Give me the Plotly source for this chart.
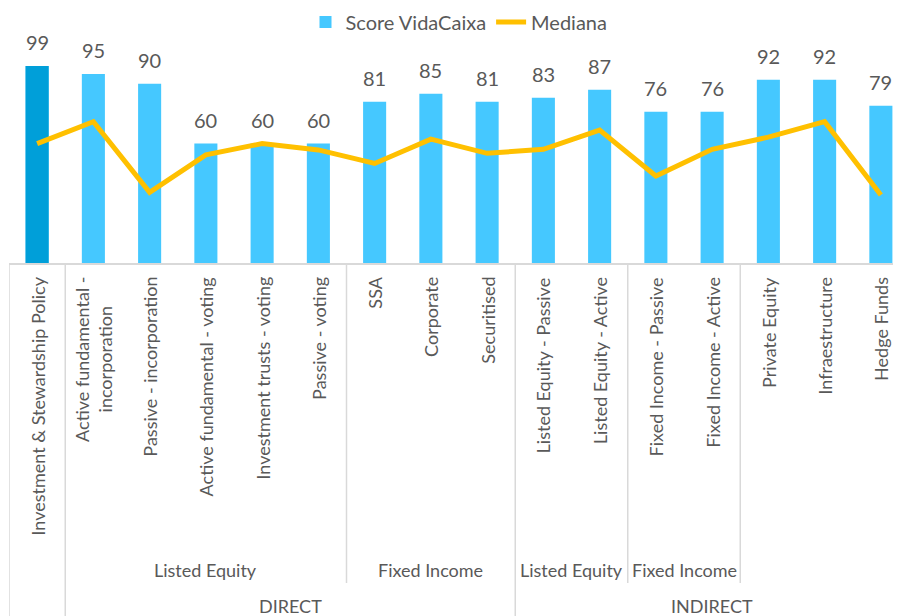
import plotly.graph_objects as go

categories = [
    "Investment & Stewardship Policy",
    "Active fundamental -<br>incorporation",
    "Passive - incorporation",
    "Active fundamental - voting",
    "Investment trusts - voting",
    "Passive - voting",
    "SSA",
    "Corporate",
    "Securitised",
    "Listed Equity - Passive",
    "Listed Equity - Active",
    "Fixed Income - Passive",
    "Fixed Income - Active",
    "Private Equity",
    "Infraestructure",
    "Hedge Funds",
]
score = [99, 95, 90, 60, 60, 60, 81, 85, 81, 83, 87, 76, 76, 92, 92, 79]
mediana = [60, 71, 35.5, 54.3, 60, 56.8, 50, 62.2, 55.1, 57.1, 66.8, 43.7, 57.1, 63.2, 71, 34.2]
group2 = ["", "Listed Equity", "Listed Equity", "Listed Equity", "Listed Equity", "Listed Equity",
          "Fixed Income", "Fixed Income", "Fixed Income",
          "Listed Equity", "Listed Equity", "Fixed Income", "Fixed Income", "", "", ""]
group1 = ["", "DIRECT", "DIRECT", "DIRECT", "DIRECT", "DIRECT", "DIRECT", "DIRECT", "DIRECT",
          "INDIRECT", "INDIRECT", "INDIRECT", "INDIRECT", "INDIRECT", "INDIRECT", "INDIRECT"]

FONT = "Lato, 'Open Sans', sans-serif"
TXT = "#595959"
LIGHT = "#45C8FF"
DARK = "#009FD9"
GOLD = "#FFC000"
GRID = "#D9D9D9"

idx = list(range(len(categories)))

fig = go.Figure()
fig.add_trace(go.Bar(
    x=idx, y=score, name="Score VidaCaixa", width=0.41,
    marker=dict(color=LIGHT, line=dict(width=0)),
))
fig.add_trace(go.Bar(
    x=idx[:1], y=score[:1], name="highlight", width=0.41, showlegend=False,
    marker=dict(color=DARK, line=dict(width=0)),
))
fig.add_trace(go.Scatter(
    x=idx, y=mediana, name="Mediana", mode="lines",
    line=dict(color=GOLD, width=5),
))

annotations = []
for i, v in zip(idx, score):
    annotations.append(dict(x=i, y=v, xref="x", yref="y", text=str(v), showarrow=False,
                            yanchor="bottom", yshift=10,
                            font=dict(family=FONT, size=20, color=TXT)))
for i, c in zip(idx, categories):
    annotations.append(dict(x=i, y=0, xref="x", yref="paper", text=c, showarrow=False,
                            textangle=-90, yanchor="top", xanchor="center", yshift=-12,
                            font=dict(family=FONT, size=18, color=TXT)))


def runs(labels):
    out = []
    start = 0
    n = len(labels)
    for k in range(1, n + 1):
        if k == n or labels[k] != labels[start] or group1[k] != group1[start]:
            out.append((start, k - 1, labels[start]))
            start = k
    return out


for s, e, lab in runs(group2):
    if lab:
        annotations.append(dict(x=(s + e) / 2, y=0, xref="x", yref="paper", text=lab,
                                showarrow=False, yanchor="middle", yshift=-307,
                                font=dict(family=FONT, size=18, color=TXT)))
for s, e, lab in runs(group1):
    if lab:
        annotations.append(dict(x=(s + e) / 2, y=0, xref="x", yref="paper", text=lab,
                                showarrow=False, yanchor="middle", yshift=-343,
                                font=dict(family=FONT, size=18, color=TXT)))

shapes = []
shapes.append(dict(type="line", xref="x", yref="paper", x0=-0.5, x1=-0.5,
                   ysizemode="pixel", yanchor=0, y0=0, y1=-360,
                   line=dict(color=GRID, width=1.5)))
for k in range(1, len(categories)):
    if group1[k] != group1[k - 1]:
        depth = -360
    elif group2[k] != group2[k - 1]:
        depth = -320
    else:
        continue
    shapes.append(dict(type="line", xref="x", yref="paper", x0=k - 0.5, x1=k - 0.5,
                       ysizemode="pixel", yanchor=0, y0=0, y1=depth,
                       line=dict(color=GRID, width=1.5)))

fig.update_layout(
    width=901, height=616,
    margin=dict(l=1, r=0, t=40, b=361),
    paper_bgcolor="white", plot_bgcolor="white",
    barmode="overlay",
    showlegend=True,
    legend=dict(orientation="h", x=0.5, xanchor="center", y=1 - 14 / 616, yref="container",
                yanchor="middle", font=dict(family=FONT, size=20, color=TXT),
                bgcolor="rgba(0,0,0,0)"),
    xaxis=dict(range=[-0.5, 15.5], showticklabels=False, ticks="", showgrid=False,
               zeroline=False, showline=True, linecolor=GRID, linewidth=1.5),
    yaxis=dict(range=[0, 108], visible=False, showgrid=False, zeroline=False),
    annotations=annotations,
    shapes=shapes,
    font=dict(family=FONT, color=TXT),
)

fig.write_html("out.html")
